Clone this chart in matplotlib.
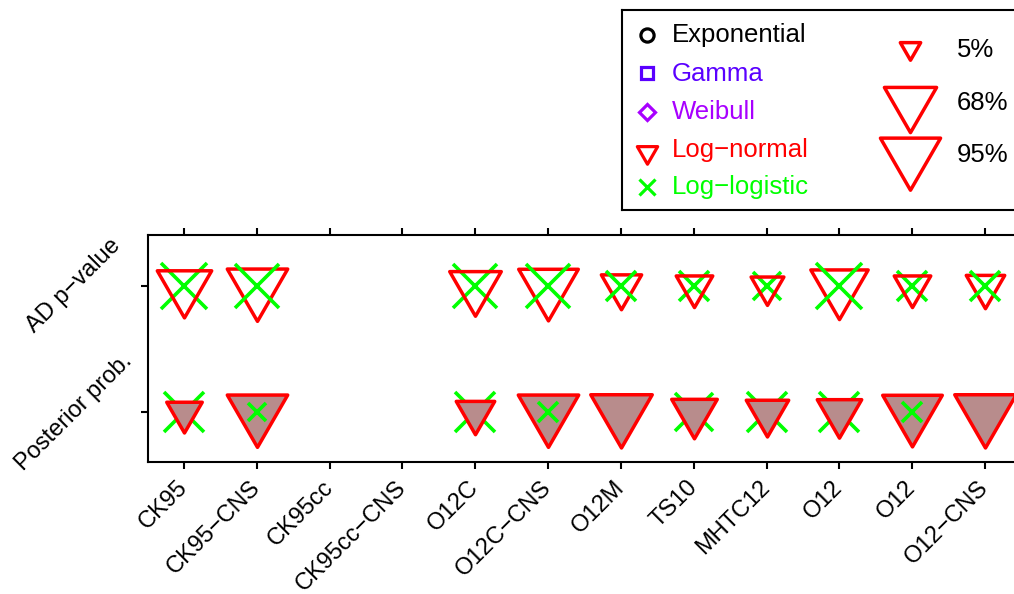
import numpy as np
import matplotlib
matplotlib.use("Agg")
import matplotlib.pyplot as plt
from matplotlib.path import Path
from matplotlib.markers import MarkerStyle

plt.rcParams["font.family"] = ["Liberation Sans", "DejaVu Sans"]

# ---- data -------------------------------------------------------------
datasets = ["CK95", "CK95\u2212CNS", "CK95cc", "CK95cc\u2212CNS", "O12C",
            "O12C\u2212CNS", "O12M", "TS10", "MHTC12", "O12", "O12",
            "O12\u2212CNS"]
row_labels = ["Posterior prob.", "AD p\u2212value"]

nan = np.nan
ad_lognormal = [0.75, 0.96, nan, nan, 0.66, 0.93, 0.36, 0.28, 0.21, 0.85, 0.28, 0.32]
ad_loglogistic = [0.82, 0.79, nan, nan, 0.79, 0.79, 0.29, 0.31, 0.24, 0.84, 0.29, 0.29]
post_lognormal = [0.26, 0.96, nan, nan, 0.32, 0.96, 1.00, 0.49, 0.41, 0.46, 0.93, 1.00]
post_loglogistic = [0.63, 0.08, nan, nan, 0.63, 0.09, nan, 0.52, 0.59, 0.59, 0.10, nan]

models = ["Exponential", "Gamma", "Weibull", "Log\u2212normal", "Log\u2212logistic"]
model_colors = ["black", "#5a00ff", "#a800ff", "red", "#00ff00"]
size_key = [0.05, 0.68, 0.95]
size_key_labels = ["5%", "68%", "95%"]
fill_color = "#b88c8c"

# ---- geometry helpers -------------------------------------------------
DPI = 100
PT = 72.0 / DPI  # points per pixel
W, H = 1014, 594

s3 = np.sqrt(3.0)
tri_path = Path([(-1, 1 / s3), (1, 1 / s3), (0, -2 / s3), (-1, 1 / s3)],
                [Path.MOVETO, Path.LINETO, Path.LINETO, Path.CLOSEPOLY])
TRI = MarkerStyle(tri_path, joinstyle="miter")


def width_px(p):
    """Marker width in pixels for a value in [0, 1]."""
    return 8.5 + 53 * np.sqrt(p)


def tri_ms(p):
    return width_px(p) * PT * 1.1547


def x_ms(p):
    return 0.8 * width_px(p) * PT


TRI_LW = 2.5
X_LW = 2.6

fig = plt.figure(figsize=(W / DPI, H / DPI), dpi=DPI)

# ---- main axes --------------------------------------------------------
ax = fig.add_axes([147.6 / W, 132 / H, 873.8 / W, 227 / H])
ax.set_xlim(0.5, 12.5)
ax.set_ylim(0.603, 2.405)
xs = np.arange(1, len(datasets) + 1)

rows = [(2, ad_lognormal, ad_loglogistic, "none"),
        (1, post_lognormal, post_loglogistic, fill_color)]
for yrow, ln_vals, ll_vals, face in rows:
    for x, ln, ll in zip(xs, ln_vals, ll_vals):
        marks = []
        if np.isfinite(ln):
            marks.append(("ln", ln))
        if np.isfinite(ll):
            marks.append(("ll", ll))
        # larger marks first so the smaller one stays visible on top
        marks.sort(key=lambda m: -m[1])
        for k, (kind, v) in enumerate(marks):
            if kind == "ln":
                ax.plot(x, yrow, linestyle="none", marker=TRI, ms=tri_ms(v),
                        mec="red", mfc=face, mew=TRI_LW, zorder=3 + k)
            else:
                ax.plot(x, yrow, linestyle="none", marker="x", ms=x_ms(v),
                        mec="#00ff00", mew=X_LW, zorder=3 + k)

ax.set_xticks(xs)
ax.set_xticklabels(datasets, rotation=45, rotation_mode="anchor",
                   ha="right", va="center")
ax.set_yticks([1, 2])
ax.set_yticklabels(row_labels, rotation=45, ha="center", va="center")
ax.tick_params(axis="both", direction="out", length=5, width=1.5,
               labelsize=17, top=True)
ax.tick_params(axis="x", pad=11)
ax.tick_params(axis="y", pad=48)
for sp in ax.spines.values():
    sp.set_linewidth(1.5)

# ---- legend panel -----------------------------------------------------
lg = fig.add_axes([622 / W, (H - 210) / H, (1030 - 622) / W, 200 / H])
lg.set_xlim(622, 1030)
lg.set_ylim(210, 10)
lg.set_xticks([])
lg.set_yticks([])
for sp in lg.spines.values():
    sp.set_linewidth(1.5)

legend_markers = ["o", "s", "D", TRI, "x"]
legend_ms = [9.5, 9.0, 8.4, tri_ms(0.05), x_ms(0.05)]
marker_y = [35, 73, 112, 152, 187]
text_y = [35, 74, 112, 150, 187]
for name, col, mk, ms, my, ty in zip(models, model_colors, legend_markers,
                                     legend_ms, marker_y, text_y):
    lg.plot(647, my, linestyle="none", marker=mk, ms=ms, mec=col,
            mfc="none", mew=2.3)
    lg.text(672, ty, name, color=col, fontsize=18.5, ha="left", va="center")

key_y = [48, 102, 155]
key_text_y = [50, 103, 155]
for p, lab, ky, ty in zip(size_key, size_key_labels, key_y, key_text_y):
    lg.plot(910, ky, linestyle="none", marker=TRI, ms=tri_ms(p), mec="red",
            mfc="none", mew=TRI_LW)
    lg.text(957, ty, lab, fontsize=18.5, ha="left", va="center")

fig.savefig("out.png", dpi=DPI)
